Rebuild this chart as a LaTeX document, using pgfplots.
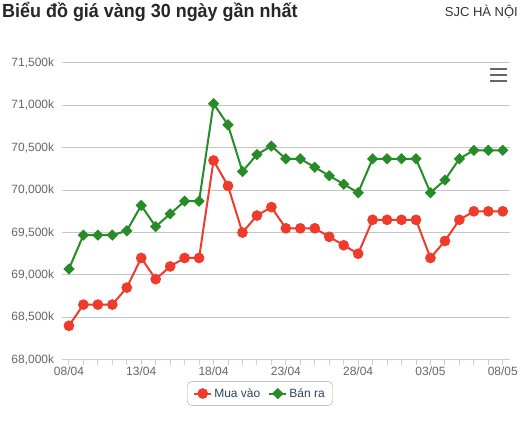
\documentclass[border=0pt]{standalone}
\usepackage{fontspec}
\setmainfont{Liberation Sans}
\usepackage{pgfplots}
\pgfplotsset{compat=1.18}
\definecolor{redS}{HTML}{EE3B2C}
\definecolor{greenS}{HTML}{278B28}
\definecolor{gridc}{HTML}{C6C6C6}
\definecolor{axisc}{HTML}{C3CFE4}
\definecolor{labc}{HTML}{666666}
\definecolor{legc}{HTML}{2E4460}
\pgfplotstableread{
d buy sell
0 68400 69070
1 68650 69470
2 68650 69470
3 68650 69470
4 68850 69520
5 69200 69820
6 68950 69570
7 69100 69720
8 69200 69870
9 69200 69870
10 70350 71020
11 70050 70770
12 69500 70220
13 69700 70420
14 69800 70520
15 69550 70370
16 69550 70370
17 69550 70270
18 69450 70170
19 69350 70070
20 69250 69970
21 69650 70370
22 69650 70370
23 69650 70370
24 69650 70370
25 69200 69970
26 69400 70120
27 69650 70370
28 69750 70470
29 69750 70470
30 69750 70470
}\gold
\begin{document}
\begin{tikzpicture}[x=1pt,y=1pt]
\path[use as bounding box] (0,0) rectangle (520,423);
\node[anchor=west, inner sep=0pt, font=\fontsize{19}{22}\selectfont\bfseries, text=black!85] at (2,411) {\scalebox{0.945}[1]{Biểu đồ giá vàng 30 ngày gần nhất}};
\node[anchor=east, inner sep=0pt, font=\fontsize{13}{15}\selectfont, text=black!80] at (518,411) {SJC HÀ NỘI};
\begin{axis}[
  at={(61.7pt,63.3pt)}, anchor=south west,
  scale only axis, width=448.3pt, height=296.7pt,
  xmin=-0.5, xmax=30.5, ymin=68000, ymax=71500,
  axis x line*=bottom, axis y line*=left,
  y axis line style={draw=none},
  x axis line style={axisc, line width=1pt},
  xtick={0,5,...,30},
  xticklabels={08/04,13/04,18/04,23/04,28/04,03/05,08/05},
  minor xtick={0,...,30},
  tick align=outside,
  major tick length=5pt, minor tick length=5pt,
  x tick style={axisc, line width=1pt},
  y tick style={draw=none},
  scaled y ticks=false,
  ytick={68000,68500,...,71500},
  yticklabels={{68,000k},{68,500k},{69,000k},{69,500k},{70,000k},{70,500k},{71,000k},{71,500k}},
  ymajorgrids, major grid style={gridc, line width=1pt},
  tick label style={font=\fontsize{12}{14}\selectfont, text=labc},
  yticklabel style={xshift=1pt},
  xticklabel style={yshift=1pt},
  legend columns=2,
  legend style={at={(0.4423,-0.114)}, anchor=center, draw=gray!70, rounded corners=5pt,
    font=\fontsize{12}{14}\selectfont, text=legc, inner xsep=6pt, inner ysep=5pt,
    /tikz/every even column/.append style={column sep=6pt}},
  clip=false,
]
\addplot[redS, line width=2pt, mark=*, mark size=4.3pt, mark options={solid, fill=redS, draw=none}] table[x=d, y=buy] {\gold};
\addlegendentry{Mua vào}
\addplot[greenS, line width=2pt, mark=square*, mark size=3pt, mark options={solid, rotate=45, fill=greenS, draw=none}] table[x=d, y=sell] {\gold};
\addlegendentry{Bán ra}
\end{axis}
\draw[labc, line width=2.4pt] (490,354)--(507,354) (490,348)--(507,348) (490,342)--(507,342);
\end{tikzpicture}
\end{document}
